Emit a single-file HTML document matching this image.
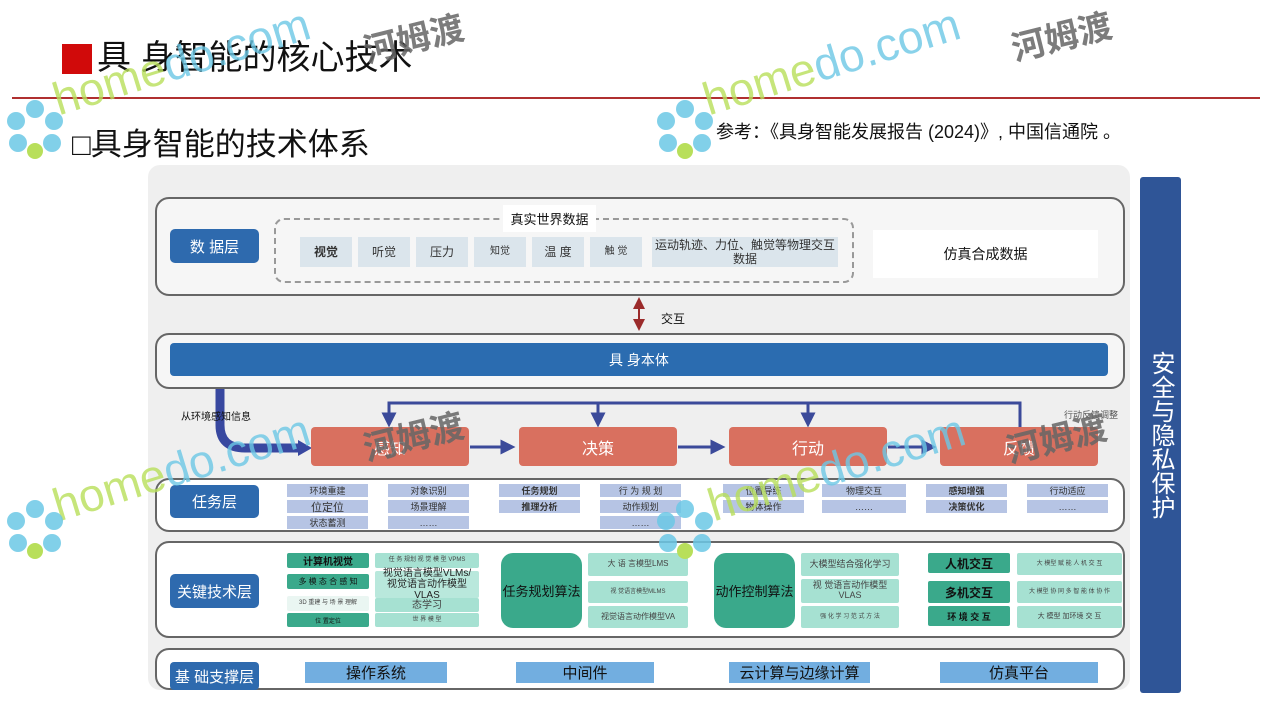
<!DOCTYPE html>
<html><head><meta charset="utf-8">
<style>
*{margin:0;padding:0;box-sizing:border-box}
body{width:1280px;height:720px;background:#fff;position:relative;overflow:hidden;font-family:"Liberation Sans","Noto Sans CJK SC",sans-serif;color:#111}
.a{position:absolute}
.c{display:flex;align-items:center;justify-content:center;text-align:center}
.lay{position:absolute;left:155px;width:970px;border:2px solid #666;border-radius:14px;background:#f6f6f6}
.btn{position:absolute;left:170px;width:89px;background:#2e6aae;color:#fff;font-size:15px;border-radius:5px;display:flex;align-items:center;justify-content:center}
.t{position:absolute;height:13px;background:#b6c4e4;font-size:9px;color:#333;display:flex;align-items:center;justify-content:center}
.dk{position:absolute;background:#3aa98b;color:#111;font-size:10px;display:flex;align-items:center;justify-content:center;border-radius:2px}
.lt{position:absolute;background:#a6e1d2;color:#444;font-size:8px;display:flex;align-items:center;justify-content:center;text-align:center;border-radius:2px;line-height:1.1}
.or{position:absolute;top:427px;height:39px;width:158px;background:#d9705f;color:#fff;font-size:16px;border-radius:4px;display:flex;align-items:center;justify-content:center}
.di{position:absolute;top:237px;height:30px;background:#dbe5ec;font-size:12px;color:#333;display:flex;align-items:center;justify-content:center;text-align:center;line-height:1.2}
.bs{position:absolute;top:662px;height:21px;background:#72aee0;font-size:15px;color:#111;display:flex;align-items:center;justify-content:center}
.wm{position:absolute;font-size:46px;transform:rotate(-17deg);transform-origin:left bottom;white-space:nowrap;opacity:.8;font-weight:normal}
.wm .h{color:#b8df5a}.wm .d{color:#6cc8e6}
.wz{position:absolute;font-size:34px;font-weight:bold;color:#666;transform:rotate(-14deg);opacity:.85;white-space:nowrap}
</style></head><body>

<div class="a" style="left:62px;top:44px;width:30px;height:30px;background:#d10a0a"></div>
<div class="a" style="left:97px;top:36px;font-size:34px;line-height:44px;">具 身智能的核心技术</div>
<div class="a" style="left:12px;top:97px;width:1248px;height:2px;background:#b03030"></div>
<div class="a" style="left:72px;top:125px;font-size:31px;line-height:40px;">□具身智能的技术体系</div>
<div class="a" style="left:716px;top:120px;font-size:18px;line-height:24px;">参考：《具身智能发展报告 (2024)》, 中国信通院 。</div>

<div class="a" style="left:148px;top:165px;width:982px;height:525px;background:#efefef;border-radius:12px"></div>

<div class="lay" style="top:197px;height:99px"></div>
<div class="btn" style="top:229px;height:34px">数 据层</div>
<div class="a" style="left:274px;top:218px;width:580px;height:65px;border:2px dashed #999;border-radius:10px"></div>
<div class="a c" style="left:503px;top:205px;width:93px;height:27px;background:#fff;font-size:13px">真实世界数据</div>
<div class="di" style="left:300px;width:52px;font-weight:bold">视觉</div>
<div class="di" style="left:358px;width:52px">听觉</div>
<div class="di" style="left:416px;width:52px">压力</div>
<div class="di" style="left:474px;width:52px;font-size:10px">知觉</div>
<div class="di" style="left:532px;width:52px">温 度</div>
<div class="di" style="left:590px;width:52px;font-size:10px">触 觉</div>
<div class="di" style="left:652px;width:186px">运动轨迹、力位、触觉等物理交互<br>数据</div>
<div class="a c" style="left:873px;top:230px;width:225px;height:48px;background:#fff;font-size:14px">仿真合成数据</div>

<svg class="a" style="left:0;top:0" width="1280" height="720">
<defs>
<marker id="r" markerWidth="6" markerHeight="6" refX="3" refY="3" orient="auto-start-reverse"><path d="M0,0L6,3L0,6z" fill="#9b2b2b"/></marker>
<marker id="b" markerWidth="5" markerHeight="5" refX="2.5" refY="2.5" orient="auto"><path d="M0,0L5,2.5L0,5z" fill="#3b4a9a"/></marker>
</defs>
<line x1="639" y1="303" x2="639" y2="325" stroke="#9b2b2b" stroke-width="2" marker-start="url(#r)" marker-end="url(#r)"/>
<path d="M1020,428 V403 H389 V420" fill="none" stroke="#3b4a9a" stroke-width="3" marker-end="url(#b)"/>
<line x1="598" y1="403" x2="598" y2="420" stroke="#3b4a9a" stroke-width="3" marker-end="url(#b)"/>
<line x1="808" y1="403" x2="808" y2="420" stroke="#3b4a9a" stroke-width="3" marker-end="url(#b)"/>
<line x1="470" y1="447" x2="508" y2="447" stroke="#3b4a9a" stroke-width="3" marker-end="url(#b)"/>
<line x1="678" y1="447" x2="718" y2="447" stroke="#3b4a9a" stroke-width="3" marker-end="url(#b)"/>
<line x1="888" y1="447" x2="929" y2="447" stroke="#3b4a9a" stroke-width="3" marker-end="url(#b)"/>
<path d="M220,388 V425 Q220,448 245,448 H300" fill="none" stroke="#3848a0" stroke-width="9"/>
<path d="M298,440 L312,448 L298,456z" fill="#3848a0"/>
</svg>
<div class="a" style="left:661px;top:310px;font-size:12px">交互</div>

<div class="lay" style="top:333px;height:56px"></div>
<div class="a c" style="left:170px;top:343px;width:938px;height:33px;background:#2b6cb0;color:#fff;font-size:14px;border-radius:4px">具 身本体</div>

<div class="a" style="left:181px;top:408px;font-size:10px">从环境感知信息</div>
<div class="a" style="left:1064px;top:408px;font-size:9px;color:#555">行动反馈调整</div>
<div class="or" style="left:311px">感知</div>
<div class="or" style="left:519px">决策</div>
<div class="or" style="left:729px">行动</div>
<div class="or" style="left:940px">反馈</div>

<div class="lay" style="top:478px;height:54px;background:#fff"></div>
<div class="btn" style="top:485px;height:33px">任务层</div>
<div class="t" style="left:287px;top:484px;width:81px">环境重建</div>
<div class="t" style="left:287px;top:500px;width:81px;font-size:11px">位定位</div>
<div class="t" style="left:287px;top:516px;width:81px">状态蓄测</div>
<div class="t" style="left:388px;top:484px;width:81px">对象识别</div>
<div class="t" style="left:388px;top:500px;width:81px">场景理解</div>
<div class="t" style="left:388px;top:516px;width:81px">……</div>
<div class="t" style="left:499px;top:484px;width:81px;font-weight:bold">任务规划</div>
<div class="t" style="left:499px;top:500px;width:81px;font-weight:bold">推理分析</div>
<div class="t" style="left:600px;top:484px;width:81px">行 为 规 划</div>
<div class="t" style="left:600px;top:500px;width:81px">动作规划</div>
<div class="t" style="left:600px;top:516px;width:81px">……</div>
<div class="t" style="left:723px;top:484px;width:81px">位置导练</div>
<div class="t" style="left:723px;top:500px;width:81px">物体操作</div>
<div class="t" style="left:822px;top:484px;width:84px">物理交互</div>
<div class="t" style="left:822px;top:500px;width:84px">……</div>
<div class="t" style="left:926px;top:484px;width:81px;font-weight:bold">感知增强</div>
<div class="t" style="left:926px;top:500px;width:81px;font-weight:bold">决策优化</div>
<div class="t" style="left:1027px;top:484px;width:81px">行动适应</div>
<div class="t" style="left:1027px;top:500px;width:81px">……</div>

<div class="lay" style="top:541px;height:97px;background:#fff"></div>
<div class="btn" style="top:574px;height:34px">关键技术层</div>
<div class="dk" style="left:287px;top:553px;width:82px;height:15px;font-weight:bold">计算机视觉</div>
<div class="dk" style="left:287px;top:574px;width:82px;height:15px;font-size:8px">多 模 态 合 感 知</div>
<div class="lt" style="left:287px;top:596px;width:82px;height:15px;background:#eaf6f2;font-size:6px">3D 重建 与 场 景 理解</div>
<div class="dk" style="left:287px;top:613px;width:82px;height:14px;font-size:6px">位 置定位</div>
<div class="lt" style="left:375px;top:553px;width:104px;height:15px;font-size:6px">任 务 规划 视 觉 模 型 VPMS</div>
<div class="lt" style="left:375px;top:571px;width:104px;height:27px;font-size:10px;color:#222;background:#b9e8dc">视觉语言模型VLMs/<br>视觉语言动作模型VLAS</div>
<div class="lt" style="left:375px;top:598px;width:104px;height:14px;font-size:10px">态学习</div>
<div class="lt" style="left:375px;top:613px;width:104px;height:14px;font-size:6px">世 界 模 型</div>
<div class="dk" style="left:501px;top:553px;width:81px;height:75px;font-size:13px;border-radius:12px">任务规划算法</div>
<div class="lt" style="left:588px;top:553px;width:100px;height:23px">大 语 言模型LMS</div>
<div class="lt" style="left:588px;top:581px;width:100px;height:22px;font-size:6px">视 觉语言模型MLMS</div>
<div class="lt" style="left:588px;top:606px;width:100px;height:22px">视觉语言动作模型VA</div>
<div class="dk" style="left:714px;top:553px;width:81px;height:75px;font-size:13px;border-radius:12px">动作控制算法</div>
<div class="lt" style="left:801px;top:553px;width:98px;height:23px;font-size:9px">大模型结合强化学习</div>
<div class="lt" style="left:801px;top:579px;width:98px;height:24px;font-size:9px">视 觉语言动作模型<br>VLAS</div>
<div class="lt" style="left:801px;top:606px;width:98px;height:22px;font-size:6px">强 化 学 习 范 式 方 法</div>
<div class="dk" style="left:928px;top:553px;width:82px;height:20px;font-size:12px;font-weight:bold">人机交互</div>
<div class="dk" style="left:928px;top:581px;width:82px;height:22px;font-size:12px;font-weight:bold">多机交互</div>
<div class="dk" style="left:928px;top:606px;width:82px;height:20px;font-size:9px;font-weight:bold">环 境 交 互</div>
<div class="lt" style="left:1017px;top:553px;width:105px;height:22px;font-size:6px">大 模型 赋 能 人 机 交 互</div>
<div class="lt" style="left:1017px;top:581px;width:105px;height:22px;font-size:6px">大 模型 协 同 多 智 能 体 协 作</div>
<div class="lt" style="left:1017px;top:606px;width:105px;height:22px;font-size:7px">大 模型 加环境 交 互</div>

<div class="lay" style="top:648px;height:42px;background:#fff"></div>
<div class="btn" style="top:662px;height:28px;border-radius:4px">基 础支撑层</div>
<div class="bs" style="left:305px;width:142px">操作系统</div>
<div class="bs" style="left:516px;width:138px">中间件</div>
<div class="bs" style="left:729px;width:141px">云计算与边缘计算</div>
<div class="bs" style="left:940px;width:158px">仿真平台</div>

<div class="a" style="left:1140px;top:177px;width:41px;height:516px;background:#2f5597;color:#fff;font-size:24px;line-height:29px;display:flex;align-items:center;justify-content:center;text-align:center;writing-mode:vertical-rl;border-radius:3px">安全与隐私保护</div>

<div class="wm" style="left:62px;top:72px"><span class="h">home</span><span class="d">do.com</span></div>
<div class="wz" style="left:362px;top:12px">河姆渡</div>
<div class="wm" style="left:712px;top:72px"><span class="h">home</span><span class="d">do.com</span></div>
<div class="wz" style="left:1010px;top:10px">河姆渡</div>
<div class="wm" style="left:62px;top:478px"><span class="h">home</span><span class="d">do.com</span></div>
<div class="wz" style="left:362px;top:410px">河姆渡</div>
<div class="wm" style="left:717px;top:478px"><span class="h">home</span><span class="d">do.com</span></div>
<div class="wz" style="left:1005px;top:412px">河姆渡</div>
<svg class="a" style="left:0;top:95px" width="70" height="70"><g fill="#6cc8e6" opacity=".85"><circle cx="35" cy="14" r="9"/><circle cx="54" cy="26" r="9"/><circle cx="16" cy="26" r="9"/><circle cx="52" cy="48" r="9"/><circle cx="18" cy="48" r="9"/></g><circle cx="35" cy="56" r="8" fill="#b8df5a"/></svg>
<svg class="a" style="left:650px;top:95px" width="70" height="70"><g fill="#6cc8e6" opacity=".85"><circle cx="35" cy="14" r="9"/><circle cx="54" cy="26" r="9"/><circle cx="16" cy="26" r="9"/><circle cx="52" cy="48" r="9"/><circle cx="18" cy="48" r="9"/></g><circle cx="35" cy="56" r="8" fill="#b8df5a"/></svg>
<svg class="a" style="left:0;top:495px" width="70" height="70"><g fill="#6cc8e6" opacity=".85"><circle cx="35" cy="14" r="9"/><circle cx="54" cy="26" r="9"/><circle cx="16" cy="26" r="9"/><circle cx="52" cy="48" r="9"/><circle cx="18" cy="48" r="9"/></g><circle cx="35" cy="56" r="8" fill="#b8df5a"/></svg>
<svg class="a" style="left:650px;top:495px" width="70" height="70"><g fill="#6cc8e6" opacity=".85"><circle cx="35" cy="14" r="9"/><circle cx="54" cy="26" r="9"/><circle cx="16" cy="26" r="9"/><circle cx="52" cy="48" r="9"/><circle cx="18" cy="48" r="9"/></g><circle cx="35" cy="56" r="8" fill="#b8df5a"/></svg>
</body></html>
